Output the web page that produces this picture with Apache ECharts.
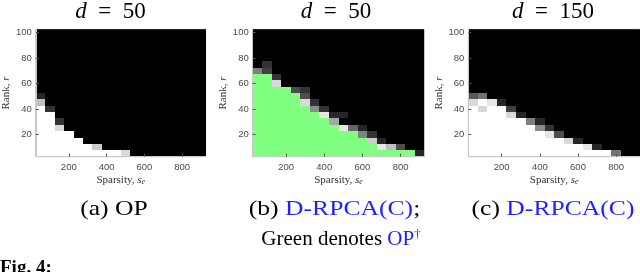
<!DOCTYPE html>
<html>
<head>
<meta charset="utf-8">
<script src="https://cdn.jsdelivr.net/npm/echarts@6/dist/echarts.min.js"></script>
<style>
  html, body { margin: 0; padding: 0; background: #fff; }
  #chart { width: 640px; height: 272px; }
</style>
</head>
<body>
<div id="chart"></div>
<script>
// ---- data ----
const sparsityValues = [50,100,150,200,250,300,350,400,450,500,550,600,650,700,750,800,850,900];
const rankValues = [5,10,15,20,25,30,35,40,45,50,55,60,65,70,75,80,85,90,95,100];
const xTickValues = [200,400,600,800];
const yTickValues = [20,40,60,80,100];

// success fraction per sparsity column, listed from rank 5 upwards; missing rows are 0
const opD50 = [
  [1,1,1,1,1,1,1,1,0.75,0.15],
  [1,1,1,1,1,1,1,0.2],
  [1,1,1,1,0.85,0.2],
  [1,1,1,1],
  [1,1,1],
  [1,1],
  [1,0.8],
  [1],
  [1],
  [0.85],
  [],[],[],[],[],[],[],[]
];

// panel (b): number of green (OP-dagger success) rows per column, then D-RPCA(C) values above them
const opDaggerGreenRows = [13,13,11,11,10,8,7,6,5,4,4,3,2,1,1,1,1,0];
const drpcaD50AboveGreen = [
  [0.5],
  [0.25,0.2],
  [0.85,0.2],
  [],
  [0.3],
  [0.85,0.3,0.2],
  [0.55,0.2],
  [0.9,0.2],
  [0.65,0.15],
  [0.9,0,0.15],
  [0.4],
  [0.5,0.15],
  [0.8,0.2],
  [0.9,0.15],
  [0.75],
  [0.3],
  [],
  [0.15]
];

const drpcaD150 = [
  [1,1,1,1,1,1,1,1,0.85,0.35],
  [1,1,1,1,1,1,1,0.85,1,0.45],
  [1,1,1,1,1,1,1,1,0.9],
  [1,1,1,1,1,1,1,1,0.15],
  [1,1,1,1,1,1,0.85,0.25],
  [1,1,1,1,1,1,0.15],
  [1,1,1,1,1,0.5],
  [1,1,1,1,0.55,0.15],
  [1,1,1,0.9,0.2],
  [1,1,1,0.3],
  [1,1,0.85],
  [1,1,0.15],
  [1,0.9],
  [1,0.15],
  [1],
  [0.45],
  [],[]
];

const panelTitles = ['50', '50', '150'];

// ---- build cell lists ----
const GREEN = '#80ff80';
function gray(v) { const c = Math.round(v * 255); return 'rgb(' + c + ',' + c + ',' + c + ')'; }

function cellsFromColumns(cols) {
  const out = [];
  sparsityValues.forEach((s, ci) => {
    rankValues.forEach((r, ri) => {
      const v = (cols[ci] && cols[ci][ri] !== undefined) ? cols[ci][ri] : 0;
      out.push([s, r, v, gray(v)]);
    });
  });
  return out;
}
function cellsGreen(greenRows, above) {
  const out = [];
  sparsityValues.forEach((s, ci) => {
    rankValues.forEach((r, ri) => {
      if (ri < greenRows[ci]) { out.push([s, r, 1, GREEN]); return; }
      const k = ri - greenRows[ci];
      const v = (above[ci] && above[ci][k] !== undefined) ? above[ci][k] : 0;
      out.push([s, r, v, gray(v)]);
    });
  });
  return out;
}
const panelData = [cellsFromColumns(opD50), cellsGreen(opDaggerGreenRows, drpcaD50AboveGreen), cellsFromColumns(drpcaD150)];

const cellW = 50, cellH = 5;
function renderCell(params, api) {
  const s = api.value(0), r = api.value(1);
  const p0 = api.coord([s - cellW / 2, r + cellH / 2]);
  const p1 = api.coord([s + cellW / 2, r - cellH / 2]);
  const x0 = Math.round(p0[0]), y0 = Math.round(p0[1]);
  const x1 = Math.round(p1[0]), y1 = Math.round(p1[1]);
  return {
    type: 'rect',
    shape: { x: x0, y: y0, width: x1 - x0, height: y1 - y0 },
    style: { fill: api.value(3) }
  };
}

const gridLefts = [34, 252.7, 468.3];
const grids = gridLefts.map(l => ({ left: l, top: 29.3, width: 171.7, height: 127.4, show: true, borderColor: '#cfcfcf', borderWidth: 1, backgroundColor: '#000' }));

const labelFont = 'Liberation Sans, Arial, sans-serif';
const serif = 'Liberation Serif, Times New Roman, serif';

const xAxes = gridLefts.map((l, i) => ({
  gridIndex: i, type: 'value', min: 25, max: 925, z: 5,
  axisLine: { show: true, lineStyle: { color: '#c8c8c8', width: 1 } },
  axisTick: { show: true, inside: true, length: 3, customValues: xTickValues, lineStyle: { color: '#555' } },
  axisLabel: { customValues: xTickValues, fontSize: 9.5, color: '#4a4a4a', margin: 6, fontFamily: labelFont },
  splitLine: { show: false },
  name: 'Sparsity, {i|s}{sub|e}', nameLocation: 'middle', nameGap: 17,
  nameTextStyle: { fontFamily: serif, fontSize: 11, color: '#333',
    rich: { i: { fontFamily: serif, fontStyle: 'italic', fontSize: 11, color: '#333' },
            sub: { fontFamily: serif, fontStyle: 'italic', fontSize: 8, color: '#333', padding: [4, 0, 0, 0] } } }
}));
const yAxes = gridLefts.map((l, i) => ({
  gridIndex: i, type: 'value', min: 2.5, max: 102.5, z: 5,
  axisLine: { show: true, lineStyle: { color: '#c8c8c8', width: 1 } },
  axisTick: { show: true, inside: true, length: 3, customValues: yTickValues, lineStyle: { color: '#555' } },
  axisLabel: { customValues: yTickValues, fontSize: 9.5, color: '#4a4a4a', margin: 4, fontFamily: labelFont },
  splitLine: { show: false },
  name: 'Rank, {i|r}', nameLocation: 'middle', nameGap: 22, nameRotate: 90,
  nameTextStyle: { fontFamily: serif, fontSize: 11, color: '#333',
    rich: { i: { fontFamily: serif, fontStyle: 'italic', fontSize: 11, color: '#333' } } }
}));

const series = panelData.map((d, i) => ({
  type: 'custom', xAxisIndex: i, yAxisIndex: i, renderItem: renderCell,
  data: d, encode: { x: 0, y: 1 }, clip: true
}));

const titleCenters = [110.5, 336, 553];
const titleRich = {
  i: { fontFamily: serif, fontStyle: 'italic', fontSize: 23, fill: '#000' },
  n: { fontFamily: serif, fontSize: 23, fill: '#000' }
};
const BLUE = '#1f1fff';
const capRich = {
  k: { fontFamily: serif, fontSize: 21, fill: '#000' },
  b: { fontFamily: serif, fontSize: 21, fill: BLUE },
  sup: { fontFamily: serif, fontSize: 13, fill: BLUE, padding: [0, 0, 8, 0] }
};
const graphics = titleCenters.map((cx, i) => ({
  type: 'text', x: cx, y: 12,
  style: { text: '{i|d}{n|  =  ' + panelTitles[i] + '}', rich: titleRich, align: 'center', verticalAlign: 'middle' }
}));
const wide = 1.22;
graphics.push(
  { type: 'text', x: 114, y: 209, scaleX: wide, style: { text: '{k|(a) OP}', rich: capRich, align: 'center', verticalAlign: 'middle' } },
  { type: 'text', x: 334.5, y: 209, scaleX: wide, style: { text: '{k|(b) }{b|D-RPCA(C)}{k|;}', rich: capRich, align: 'center', verticalAlign: 'middle' } },
  { type: 'text', x: 341, y: 239, style: { text: '{k|Green denotes }{b|OP}{sup|\u2020}', rich: capRich, align: 'center', verticalAlign: 'middle' } },
  { type: 'text', x: 553, y: 209, scaleX: wide, style: { text: '{k|(c) }{b|D-RPCA(C)}', rich: capRich, align: 'center', verticalAlign: 'middle' } },
  { type: 'text', x: 0, y: 259, style: { text: 'Fig. 4:', fontFamily: serif, fontWeight: 'bold', fontSize: 19, fill: '#000', align: 'left', verticalAlign: 'top' } }
);

const chart = echarts.init(document.getElementById('chart'), null, { renderer: 'canvas' });
chart.setOption({
  animation: false,
  backgroundColor: '#fff',
  grid: grids,
  xAxis: xAxes,
  yAxis: yAxes,
  series: series,
  graphic: graphics
});
</script>
</body>
</html>
